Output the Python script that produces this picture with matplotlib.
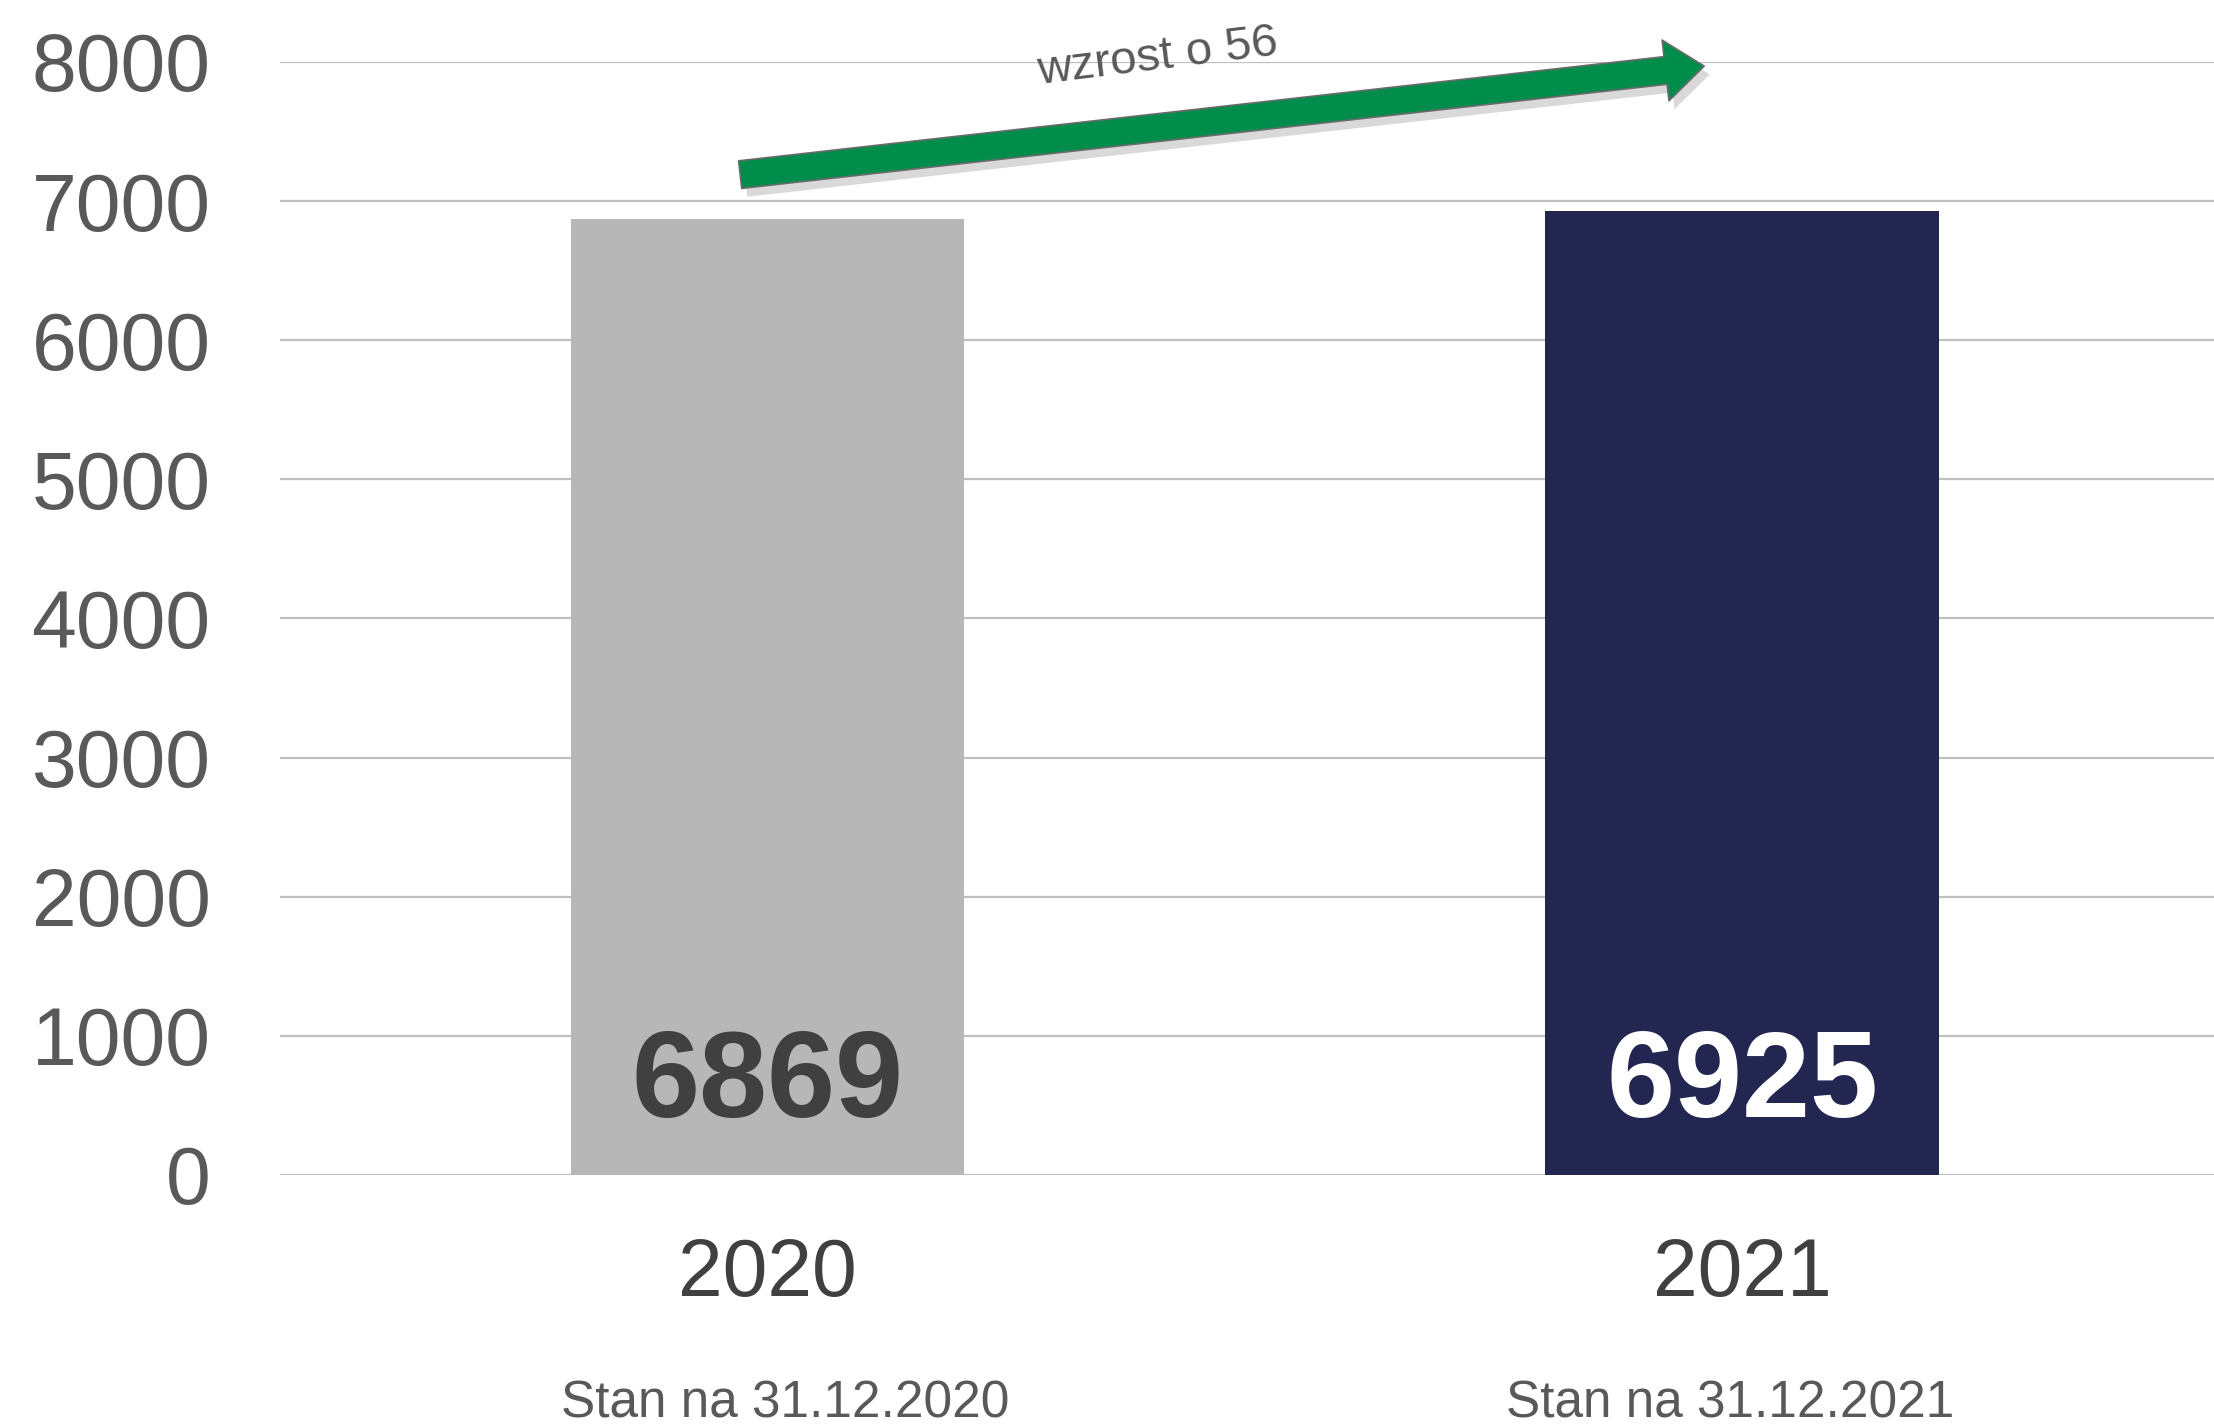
import matplotlib
matplotlib.use('Agg')
import matplotlib.pyplot as plt
import matplotlib.patheffects as pe

plt.rcParams['font.family'] = ['Liberation Sans', 'DejaVu Sans']

# data
years = ['2020', '2021']
values = [6869, 6925]
subtitles = ['Stan na 31.12.2020', 'Stan na 31.12.2021']
bar_colors = ['#B7B7B7', '#222650']
value_colors = ['#404040', '#FFFFFF']
increase = values[1] - values[0]
yticks = [0, 1000, 2000, 3000, 4000, 5000, 6000, 7000, 8000]

fig = plt.figure(figsize=(22.14, 14.27), dpi=100)
ax = fig.add_axes([0.1265, 0.1766, 0.8735, 0.78])

x = list(range(len(years)))
ax.bar(x, values, width=0.404, color=bar_colors, zorder=3)

ax.set_ylim(0, 8000)
ax.set_xlim(-0.5, 1.484)
ax.set_yticks(yticks)
ax.set_yticklabels([str(t) for t in yticks], fontsize=58, color='#595959')
ax.tick_params(axis='y', length=0, pad=50)
ax.set_xticks(x)
ax.set_xticklabels(years, fontsize=58, color='#404040')
ax.tick_params(axis='x', length=0, pad=45)

ax.grid(axis='y', color='#BFBFBF', linewidth=1.6, zorder=0)
for s in ax.spines.values():
    s.set_visible(False)

# value labels inside bars
for xi, v, c in zip(x, values, value_colors):
    ax.annotate(str(v), (xi, 0), xytext=(0, 65), textcoords='offset points',
                ha='center', va='center', fontsize=88, fontweight='bold', color=c, zorder=4)

# subtitles under year labels
sub_dx = [13, -9]
for xi, s, dx in zip(x, subtitles, sub_dx):
    ax.annotate(s, (xi, 0), xytext=(dx, -165), textcoords='offset points',
                ha='center', va='center', fontsize=37, color='#595959',
                annotation_clip=False)

# growth arrow
arr = ax.annotate('', xy=(0.961, 7970), xytext=(-0.028, 7190),
                  arrowprops=dict(arrowstyle='simple,head_width=2.2,head_length=1.4,tail_width=1.0',
                                  fc='#008C4A', ec='#6B6B6B', lw=1.2,
                                  mutation_scale=20, shrinkA=0, shrinkB=0),
                  zorder=5)
arr.arrow_patch.set_path_effects([pe.SimplePatchShadow(offset=(4, -6), shadow_rgbFace='#000000', alpha=0.15),
                                  pe.Normal()])
ax.text(0.40, 8030, 'wzrost o ' + str(increase), fontsize=34, color='#595959',
        rotation=7, ha='center', va='center', zorder=6)

fig.savefig('out.png', dpi=100)
